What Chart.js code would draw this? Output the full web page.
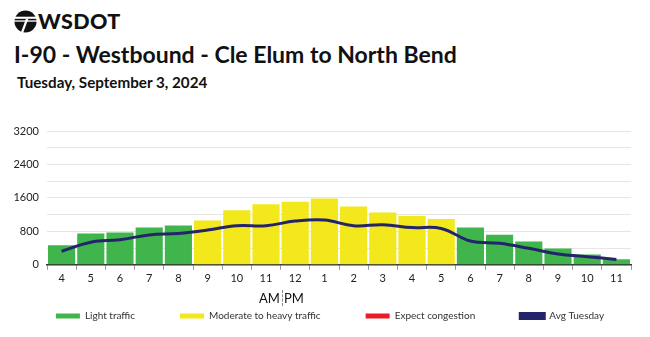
<!DOCTYPE html>
<html>
<head>
<meta charset="utf-8">
<script src="https://cdn.jsdelivr.net/npm/chart.js@4"></script>
<style>
  html, body { margin: 0; padding: 0; background: #fff; }
  body { width: 650px; height: 337px; position: relative; overflow: hidden; font-family: Lato, sans-serif; }
  #logo { position: absolute; left: 14px; top: 9px; height: 24px; display: flex; align-items: center; }
  #logo span { font-weight: 900; font-size: 21.5px; color: #111; letter-spacing: 0.4px; margin-left: 1px; }
  #title { position: absolute; left: 14px; top: 40px; font-size: 23px; font-weight: bold; color: #111; white-space: nowrap; }
  #subtitle { position: absolute; left: 17px; top: 73px; font-size: 15.2px; font-weight: bold; color: #111; white-space: nowrap; }
  #ampm { position: absolute; left: 259px; top: 290px; font-size: 13px; color: #111; white-space: nowrap; }
  #ampm i { display: inline-block; width: 0; height: 16px; border-left: 1px dashed #888; vertical-align: -3px; margin: 0 1px 0 2px; }
  #wrap { position: absolute; left: 0; top: 100px; width: 650px; height: 252px; }
</style>
</head>
<body>
<div id="logo">
  <svg width="23" height="23" viewBox="0 0 24 24">
    <circle cx="12" cy="12" r="11.5" fill="#111"/>
    <rect x="0" y="7" width="24" height="2.2" fill="#fff"/>
    <rect x="0" y="10.8" width="24" height="1.4" fill="#fff"/>
    <polygon points="12.5,9 15,9 9.5,24 7,24" fill="#fff"/>
  </svg>
  <span>WSDOT</span>
</div>
<div id="title">I-90 - Westbound - Cle Elum to North Bend</div>
<div id="subtitle">Tuesday, September 3, 2024</div>
<div id="wrap"><canvas id="chart" width="650" height="252"></canvas></div>
<div id="ampm">AM<i></i>PM</div>
<script>
const hours = ['4', '5', '6', '7', '8', '9', '10', '11', '12', '1', '2', '3', '4', '5', '6', '7', '8', '9', '10', '11'];
const volumes = [465, 750, 775, 895, 940, 1060, 1305, 1450, 1505, 1585, 1395, 1250, 1170, 1095, 895, 720, 555, 390, 245, 135];
const conditions = ['light', 'light', 'light', 'light', 'light', 'moderate', 'moderate', 'moderate', 'moderate', 'moderate',
  'moderate', 'moderate', 'moderate', 'moderate', 'light', 'light', 'light', 'light', 'light', 'light'];
const avgTuesday = [325, 540, 600, 715, 750, 830, 935, 935, 1045, 1070, 935, 960, 890, 870, 570, 515, 395, 260, 195, 125];

const green = '#3fb54b';
const yellow = '#f3e81c';
const red = '#ed1c24';
const navy = '#24246b';

function pick(kind) {
  return volumes.map((v, i) => conditions[i] === kind ? v : null);
}

// the legend needs wide horizontal padding, which chart.js also adds above it;
// pull it back up (and a bit right) so it sits where the original has it
const legendNudge = {
  id: 'legendNudge',
  afterLayout(chart) {
    const lg = chart.legend;
    lg.top = 166;
    lg.bottom = lg.top + lg.height;
    lg.left += 5;
    lg.right += 5;
  }
};

const ctx = document.getElementById('chart').getContext('2d');
const chart = new Chart(ctx, {
  data: {
    labels: hours,
    datasets: [
      {
        type: 'line',
        label: 'Avg Tuesday',
        data: avgTuesday,
        borderColor: navy,
        backgroundColor: navy,
        borderWidth: 3,
        pointRadius: 0,
        tension: 0.4,
        order: 0
      },
      { type: 'bar', label: 'Light traffic', data: pick('light'), backgroundColor: green, order: 1 },
      { type: 'bar', label: 'Moderate to heavy traffic', data: pick('moderate'), backgroundColor: yellow, order: 1 },
      { type: 'bar', label: 'Expect congestion', data: pick('heavy'), backgroundColor: red, order: 1 }
    ]
  },
  plugins: [legendNudge],
  options: {
    responsive: false,
    animation: false,
    layout: { padding: { top: 31, left: 0, right: 0, bottom: 0 } },
    datasets: {
      bar: { grouped: false, barPercentage: 0.93, categoryPercentage: 1 }
    },
    plugins: {
      tooltip: { enabled: false },
      legend: {
        position: 'bottom',
        labels: {
          boxWidth: 24,
          boxHeight: 5,
          padding: 45,
          color: '#333',
          font: { family: 'Lato', size: 10 },
          sort: (a, b) => (a.datasetIndex === 0 ? 1 : 0) - (b.datasetIndex === 0 ? 1 : 0)
        }
      }
    },
    scales: {
      x: {
        grid: { offset: true, drawOnChartArea: false, drawTicks: true, tickLength: 5, color: '#999' },
        border: { color: '#333', width: 1.5 },
        ticks: { color: '#222', font: { family: 'Lato', size: 11 }, padding: 2, maxRotation: 0 }
      },
      y: {
        min: 0,
        max: 3200,
        grid: { color: '#e6e6e6', drawTicks: false },
        border: { display: false },
        ticks: {
          stepSize: 400,
          autoSkip: false,
          padding: 8,
          color: '#222',
          font: { family: 'Lato', size: 11 },
          callback: v => v % 800 === 0 ? v : ''
        },
        afterFit: s => { s.width = 47; }
      },
      yRight: {
        position: 'right',
        min: 0,
        max: 3200,
        grid: { display: false },
        border: { display: false },
        ticks: { display: false },
        afterFit: s => { s.width = 19; }
      }
    }
  }
});
</script>
</body>
</html>
